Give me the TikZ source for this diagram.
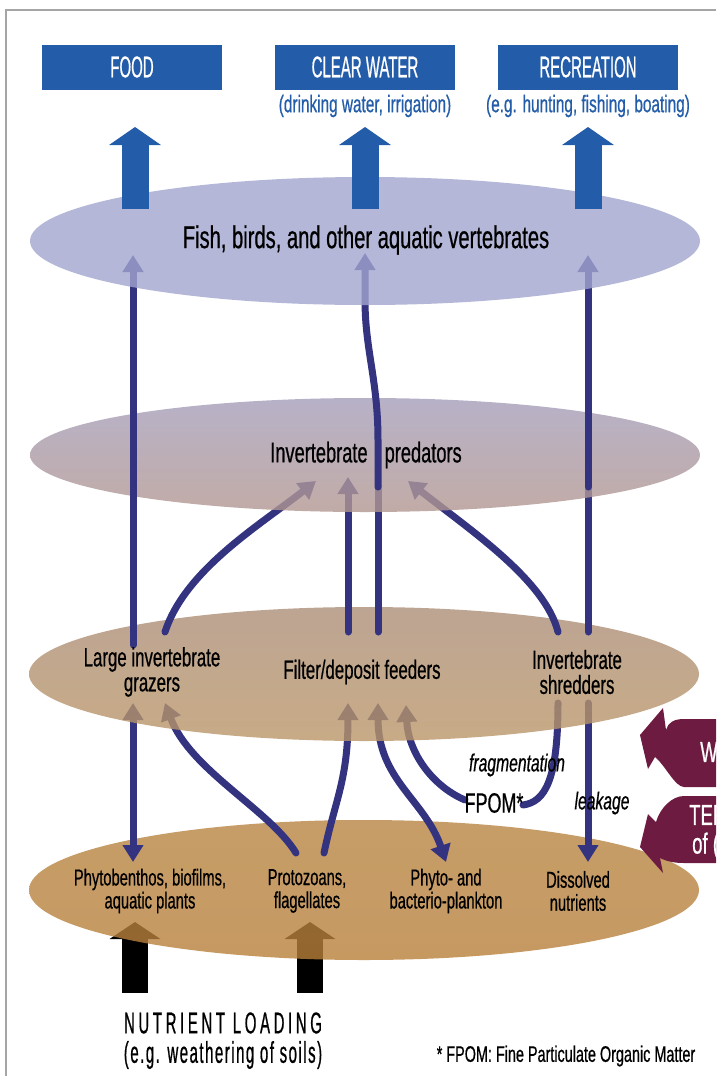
\documentclass[tikz,border=0pt]{standalone}
\usepackage{fontspec}
\setmainfont{Liberation Sans}[FakeStretch=0.64,FakeBold=0.6]
\newfontfamily\capsfont{Liberation Sans}[FakeStretch=0.5,FakeBold=0.6]
\newfontfamily\spacedfont{Liberation Sans}[FakeStretch=0.5,FakeBold=0.6,LetterSpace=12]
\newfontfamily\spacedfontb{Liberation Sans}[FakeStretch=0.5,FakeBold=0.6,LetterSpace=5]
\usetikzlibrary{arrows.meta,shapes.geometric}
\definecolor{navy}{RGB}{51,51,128}
\definecolor{boxblue}{RGB}{35,92,168}
\definecolor{maroonc}{RGB}{110,27,65}
\definecolor{framegray}{RGB}{165,165,165}
\definecolor{fishc}{RGB}{161,165,206}
\definecolor{predtop}{RGB}{165,158,186}
\definecolor{predbot}{RGB}{178,150,144}
\definecolor{feedtop}{RGB}{172,142,120}
\definecolor{feedbot}{RGB}{186,150,104}
\definecolor{nuttop}{RGB}{184,132,66}
\definecolor{nutbot}{RGB}{184,128,58}
\tikzset{
  levelshape/.style={ellipse, draw=none, inner sep=0pt, minimum width=670pt, fill opacity=0.8},
  link/.style={draw=navy, line width=7pt, line cap=round},
  headed/.style={link, -{Triangle[width=20pt,length=17pt]}},
  bothheaded/.style={link, {Triangle[width=20pt,length=17pt]}-{Triangle[width=20pt,length=17pt]}},
  bigblue/.style={draw=boxblue, line width=27pt, -{Triangle[width=51pt,length=18pt]}},
  bigblack/.style={draw=black, line width=26pt, -{Triangle[width=50pt,length=17pt]}},
  topbox/.style={fill=boxblue, text=white, minimum width=180pt, minimum height=45pt, inner sep=0pt, font=\capsfont\fontsize{30}{30}\selectfont},
  subtitle/.style={text=boxblue, inner sep=0pt, font=\fontsize{24}{24}\selectfont},
  lbl/.style={text=black, align=center, inner sep=0pt},
  maroonshape/.style={fill=maroonc, draw=none},
  whitetxt/.style={text=white, inner sep=0pt, font=\fontsize{29}{30}\selectfont, anchor=west, align=left}
}
\begin{document}
\begin{tikzpicture}[x=1pt,y=-1pt]
\useasboundingbox (0,0) rectangle (716,1076);
% frame
\coordinate (frA) at (6,1076);
\coordinate (frB) at (6,10);
\coordinate (frC) at (716,10);
\draw[framegray, line width=2.5pt] (frA) -- (frB) -- (frC);

% nutrient loading arrows (under bottom ellipse)
\coordinate (nl1) at (135,993); \coordinate (nl1t) at (135,922);
\coordinate (nl2) at (310,993); \coordinate (nl2t) at (310,922);
\draw[bigblack] (nl1) -- (nl1t);
\draw[bigblack] (nl2) -- (nl2t);

% bottom ellipse
\node[levelshape, minimum height=140pt, shade, top color=nuttop, bottom color=nutbot] (nut) at (364,890) {};

% level-2 connectors
\coordinate (g2) at (133,703); \coordinate (p1) at (133,862);
\draw[bothheaded] (p1) -- (g2);
\coordinate (pz1) at (296,853); \coordinate (g2b) at (165,703);
\draw[headed] (pz1) .. controls (270,810) and (190,770) .. (g2b);
\coordinate (pz2) at (324,853); \coordinate (f2a) at (348,703);
\draw[headed] (pz2) .. controls (335,800) and (348,780) .. (f2a);
\coordinate (f2b) at (378,703); \coordinate (pk) at (446,862);
\draw[bothheaded] (pk) .. controls (425,800) and (378,780) .. (f2b);
\coordinate (fpomL) at (465,800); \coordinate (f2c) at (406,705);
\draw[headed] (fpomL) .. controls (430,785) and (408,750) .. (f2c);
\coordinate (s2a) at (558,703); \coordinate (fpomR) at (523,805);
\draw[link] (s2a) .. controls (558,780) and (545,802) .. (fpomR);
\coordinate (s2b) at (588,703); \coordinate (dn) at (588,862);
\draw[headed] (s2b) -- (dn);

% feeders ellipse
\node[levelshape, minimum height=134pt, shade, top color=feedtop, bottom color=feedbot] (feed) at (364,674) {};

% level-3 connectors
\coordinate (g3) at (165,632); \coordinate (pr1) at (316,481);
\draw[headed] (g3) .. controls (185,570) and (260,525) .. (pr1);
\coordinate (f3a) at (348,632); \coordinate (pr2) at (348,477);
\draw[headed] (f3a) -- (pr2);
\coordinate (f3b) at (378,632); \coordinate (pr3) at (378,487);
\draw[link] (f3b) -- (pr3);
\coordinate (s3a) at (558,632); \coordinate (pr4) at (408,481);
\draw[headed] (s3a) .. controls (545,580) and (470,530) .. (pr4);
\coordinate (s3b) at (588,632); \coordinate (pr5) at (588,487);
\draw[link] (s3b) -- (pr5);

% predators ellipse
\node[levelshape, minimum height=114pt, shade, top color=predtop, bottom color=predbot] (pred) at (365,455) {};

% level-4 connectors
\coordinate (g4) at (133,645); \coordinate (fi1) at (133,255);
\draw[headed] (g4) -- (fi1);
\coordinate (fi2) at (365,253);
\draw[headed] (pr3) -- (378,440) .. controls (378,380) and (365,350) .. (365,300) -- (fi2);
\coordinate (fi3) at (588,255);
\draw[headed] (pr5) -- (fi3);

% fish ellipse
\node[levelshape, minimum height=128pt, fill=fishc] (fish) at (365,241) {};

% top boxes
\node[topbox] (food) at (132,67) {FOOD};
\node[topbox] (clear) at (365,67) {CLEAR WATER};
\node[topbox] (recr) at (588,67) {RECREATION};
\node[subtitle] (clearsub) at (365,106) {(drinking water, irrigation)};
\node[subtitle] (recrsub) at (588,106) {(e.g. hunting, fishing, boating)};

% blue arrows
\coordinate (ba1) at (135,209); \coordinate (ba1t) at (135,127);
\coordinate (ba2) at (365,209); \coordinate (ba2t) at (365,127);
\coordinate (ba3) at (588,209); \coordinate (ba3t) at (588,127);
\draw[bigblue] (ba1) -- (ba1t);
\draw[bigblue] (ba2) -- (ba2t);
\draw[bigblue] (ba3) -- (ba3t);

% texts
\node[lbl, font=\fontsize{31.5}{33}\selectfont] (fishtxt) at (366,240) {Fish, birds, and other aquatic vertebrates};
\node[lbl, font=\fontsize{28.5}{30}\selectfont] (predtxt) at (366,455) {Invertebrate\hspace{12pt} predators};
\node[lbl, font=\fontsize{26.3}{25}\selectfont] (graz) at (152,672) {Large invertebrate\\grazers};
\node[lbl, font=\fontsize{26.3}{25}\selectfont] (filt) at (362,672) {Filter/deposit feeders};
\node[lbl, font=\fontsize{26.3}{25}\selectfont] (shred) at (577,672) {Invertebrate\\shredders};
\node[lbl, font=\fontsize{23}{23}\selectfont] (phb) at (150,891) {Phytobenthos, biofilms,\\aquatic plants};
\node[lbl, font=\fontsize{23}{23}\selectfont] (proto) at (307,891) {Protozoans,\\flagellates};
\node[lbl, font=\fontsize{23}{23}\selectfont] (plank) at (446,891) {Phyto- and\\bacterio-plankton};
\node[lbl, font=\fontsize{23}{23}\selectfont] (diss) at (578,891) {Dissolved\\nutrients};
\node[lbl, font=\itshape\fontsize{24.5}{24}\selectfont] (frag) at (517,765) {fragmentation};
\node[lbl, font=\fontsize{28}{28}\selectfont] (fpom) at (494,803) {FPOM*};
\node[lbl, font=\itshape\fontsize{24.5}{24}\selectfont] (leak) at (602,803) {leakage};
\node[lbl, font=\spacedfont\fontsize{30}{30}\selectfont] (nload) at (223,1023) {NUTRIENT LOADING};
\node[lbl, font=\spacedfontb\fontsize{30}{30}\selectfont] (nloadsub) at (223,1055) {(e.g. weathering of soils)};
\node[lbl, font=\fontsize{22.5}{22}\selectfont] (note) at (566,1056) {* FPOM: Fine Particulate Organic Matter};

% maroon arrows at right edge
\path[maroonshape] (716,719) -- (684,719) .. controls (673,719) and (668,723) .. (666,730) -- (663,708) -- (640,735) -- (648,769) -- (655,757) .. controls (665,765) and (675,787) .. (684,787) -- (716,787) -- cycle;
\path[maroonshape] (716,796) -- (684,796) .. controls (672,796) and (660,808) .. (656,822) -- (648,814) -- (640,847) -- (663,873) -- (660,858) .. controls (668,862) and (676,863) .. (684,863) -- (716,863) -- cycle;
\node[whitetxt] (mw) at (700,752) {W};
\node[whitetxt] (mt) at (689,815) {TER};
\node[whitetxt] (mo) at (692,846) {of (};
\end{tikzpicture}
\end{document}
